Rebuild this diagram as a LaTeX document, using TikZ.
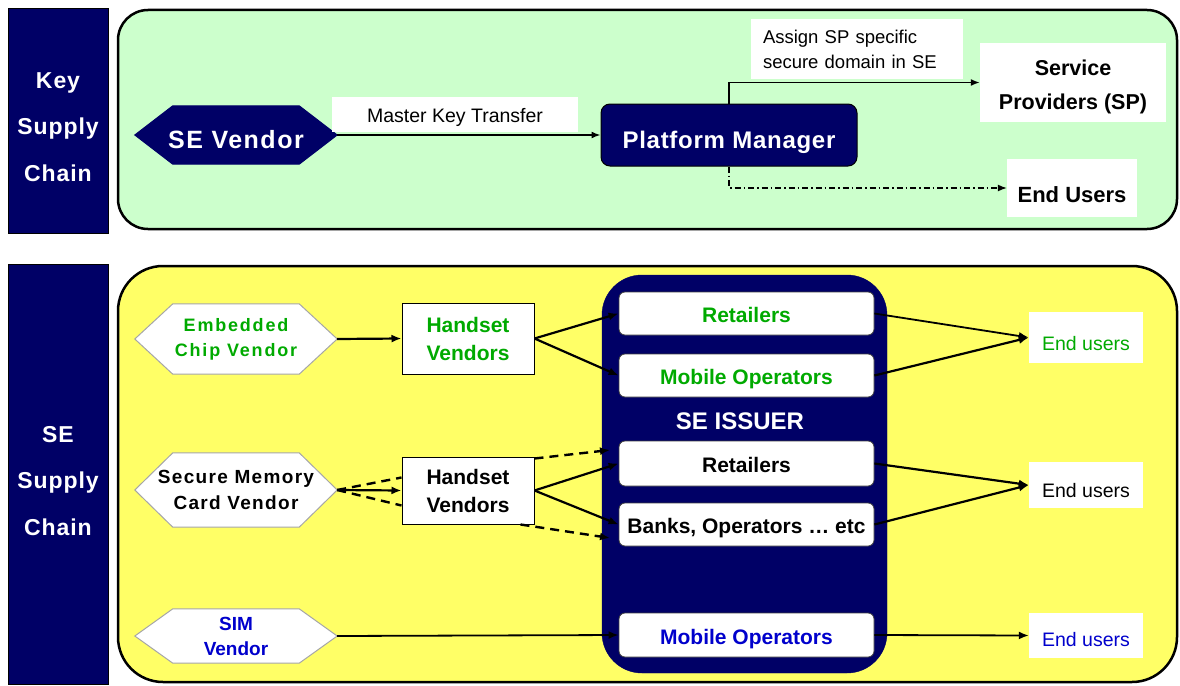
\documentclass[tikz,border=0pt]{standalone}
\usepackage{fontspec}
\setmainfont{Liberation Sans}
\usetikzlibrary{arrows.meta,calc}

\definecolor{navy}{RGB}{0,0,102}
\definecolor{mintbg}{RGB}{204,255,204}
\definecolor{lemonbg}{RGB}{255,255,102}
\definecolor{leafgreen}{RGB}{0,170,0}
\definecolor{inkblue}{RGB}{0,0,204}

\pgfdeclarelayer{panels}
\pgfdeclarelayer{outlines}
\pgfsetlayers{panels,outlines,main}

% hexagonal outline drawn behind a named node: #1 node, #2 fill, #3 stroke
\newcommand\hexoutline[3]{%
  \begin{pgfonlayer}{outlines}
    \draw[fill=#2,draw=#3,line width=1pt]
      (#1.west) -- ($(#1.north west)+(38,0)$) -- ($(#1.north east)+(-38,0)$)
      -- (#1.east) -- ($(#1.south east)+(-38,0)$) -- ($(#1.south west)+(38,0)$) -- cycle;
  \end{pgfonlayer}}

\begin{document}
\begin{tikzpicture}[x=1pt,y=-1pt,
  sidebox/.style={fill=navy,draw=black,line width=1pt,minimum width=100pt,inner sep=0pt},
  sidetext/.style={text=white,align=center,inner sep=0pt,
    font=\bfseries\fontsize{23}{46.5}\selectfont\addfontfeature{LetterSpace=4}},
  hexnode/.style={minimum width=202pt,inner sep=0pt,align=center},
  whitelbl/.style={fill=white,inner sep=0pt},
  % single-line text sitting a given distance below the node centre
  base/.style={text height=#1,text depth=0pt},
  pmbox/.style={fill=navy,draw=black,line width=1pt,rounded corners=9pt,
    minimum width=256pt,minimum height=62pt,inner sep=0pt,text=white,base=26pt,
    font=\bfseries\fontsize{24}{28}\selectfont\addfontfeature{LetterSpace=3}},
  issuer/.style={fill=navy,draw=navy,rounded corners=40pt,minimum width=285pt,
    minimum height=398pt,inner sep=0pt},
  innerbox/.style={fill=white,draw=gray!50!black,line width=0.8pt,rounded corners=6pt,
    minimum width=255pt,inner sep=0pt,base=18.5pt,font=\bfseries\fontsize{21}{25}\selectfont},
  handset/.style={fill=white,draw=black,line width=1pt,minimum width=132pt,inner sep=0pt,
    align=center,font=\bfseries\fontsize{21}{28}\selectfont},
  enduser/.style={fill=white,minimum width=114pt,inner sep=0pt,
    font=\fontsize{19.5}{23}\selectfont},
  toparr/.style={line width=1.6pt,-{Latex[length=9pt,width=7pt]}},
  botarr/.style={line width=2.2pt,-{Latex[length=10pt,width=8pt]}},
  dashline/.style={line width=2.4pt,dash pattern=on 9pt off 6pt},
  dasharr/.style={line width=2.4pt,dash pattern=on 9pt off 6pt,-{Latex[length=10pt,width=8pt]}}
]
\useasboundingbox (0,0) rectangle (1180,685);

% section panels
\begin{pgfonlayer}{panels}
  \draw[line width=2.5pt,fill=mintbg,rounded corners=30pt] (118,10) rectangle (1177,229);
  \draw[line width=2.5pt,fill=lemonbg,rounded corners=45pt] (118,266) rectangle (1177,682);
\end{pgfonlayer}

% side captions
\node[sidebox,minimum height=224pt] (keyside) at (58,121) {};
\node[sidetext] (keytext) at (58,127) {Key\\Supply\\Chain};
\node[sidebox,minimum height=420pt] (seside) at (58,474) {};
\node[sidetext] (setext) at (58,481) {SE\\Supply\\Chain};

% ---- key supply chain ----
\node[hexnode,minimum height=58pt,text=white,base=26pt,
  font=\bfseries\fontsize{25}{30}\selectfont\addfontfeature{LetterSpace=6}] (sev) at (236,135) {SE Vendor};
\hexoutline{sev}{navy}{navy}

\node[whitelbl,minimum width=246pt,minimum height=35pt,base=16.4pt,
  font=\fontsize{19.5}{23}\selectfont] (mkt) at (455,114.5) {Master Key Transfer};
\node[pmbox] (pm) at (729,135) {Platform Manager};
\node[whitelbl,text width=188pt,inner xsep=12pt,minimum height=60pt,align=left,
  font=\fontsize{18.5}{25}\selectfont] (asg) at (857,49) {Assign SP specific\\secure domain in SE};
\node[whitelbl,minimum width=186pt,minimum height=79pt] (sp) at (1073,82.5) {};
\node[align=center,inner sep=0pt,font=\bfseries\fontsize{21.5}{34}\selectfont]
  (sptext) at (1073,86.5) {Service\\Providers (SP)};
\node[whitelbl,minimum width=130pt,minimum height=58pt,base=28pt,
  font=\bfseries\fontsize{22}{26}\selectfont] (eu0) at (1072,188) {End Users};

\draw[toparr] (sev.east) -- (pm.west);
\draw[toparr] (pm.north) |- (sp.west);
\draw[toparr,line width=1.2pt,dash pattern=on 6pt off 3pt on 1.5pt off 3pt] (pm.south) |- (eu0.west);

% ---- SE supply chain ----
\node[issuer] (iss) at (744.5,474) {};
\node[text=white,inner sep=0pt,font=\bfseries\fontsize{24}{28}\selectfont] (isstxt) at (740,421) {SE ISSUER};

\node[innerbox,minimum height=43pt,text=leafgreen] (ret1) at (746.5,313.5) {Retailers};
\node[innerbox,minimum height=43pt,text=leafgreen] (mob1) at (746.5,375.5) {Mobile Operators};
\node[innerbox,minimum height=45pt] (ret2) at (746.5,463.5) {Retailers};
\node[innerbox,minimum height=43pt] (bank) at (746.5,524.5) {Banks, Operators … etc};
\node[innerbox,minimum height=44pt,text=inkblue] (mob2) at (746.5,635) {Mobile Operators};

\node[hexnode,minimum height=70pt,text=leafgreen,
  font=\bfseries\fontsize{18}{25}\selectfont\addfontfeature{LetterSpace=10}] (emb) at (236,339) {Embedded\\Chip Vendor};
\hexoutline{emb}{white}{gray!70}
\node[hexnode,minimum height=74pt,
  font=\bfseries\fontsize{19}{26}\selectfont\addfontfeature{LetterSpace=7}] (smc) at (236,490) {Secure Memory\\Card Vendor};
\hexoutline{smc}{white}{gray!70}
\node[hexnode,minimum height=54pt,text=inkblue,
  font=\bfseries\fontsize{19}{25}\selectfont] (sim) at (236,636) {SIM\\Vendor};
\hexoutline{sim}{white}{gray!70}

\node[handset,minimum height=71pt,text=leafgreen] (hs1) at (468,338.5) {Handset\\Vendors};
\node[handset,minimum height=67pt] (hs2) at (468,490.5) {Handset\\Vendors};

\node[enduser,minimum height=51pt,text=leafgreen,base=26pt] (eu1) at (1086,337.5) {End users};
\node[enduser,minimum height=46pt,base=24.6pt] (eu2) at (1086,485) {End users};
\node[enduser,minimum height=45pt,text=inkblue,base=22pt] (eu3) at (1086,635.5) {End users};

\coordinate (dtop) at (610,450);
\coordinate (dbot) at (610,538);

\draw[botarr] (emb.east) -- (hs1.west);
\draw[botarr] (hs1.east) -- (ret1.west);
\draw[botarr] (hs1.east) -- (mob1.west);
\draw[botarr,line width=1.8pt] (ret1.east) -- (eu1.west);
\draw[botarr] (mob1.east) -- (eu1.west);

\draw[botarr] (smc.east) -- (hs2.west);
\draw[dashline] (smc.east) -- ($(hs2.west)+(0,-13)$);
\draw[dashline] (smc.east) -- ($(hs2.west)+(0,15)$);
\draw[dasharr] ($(hs2.north east)+(0,2)$) -- (dtop);
\draw[dasharr] ($(hs2.south east)+(-14,0)$) -- (dbot);
\draw[botarr] (hs2.east) -- (ret2.west);
\draw[botarr] (hs2.east) -- (bank.west);
\draw[botarr] (ret2.east) -- (eu2.west);
\draw[botarr] (bank.east) -- (eu2.west);

\draw[botarr,line width=1.8pt] (sim.east) -- (mob2.west);
\draw[botarr,line width=1.8pt] (mob2.east) -- (eu3.west);
\end{tikzpicture}
\end{document}
